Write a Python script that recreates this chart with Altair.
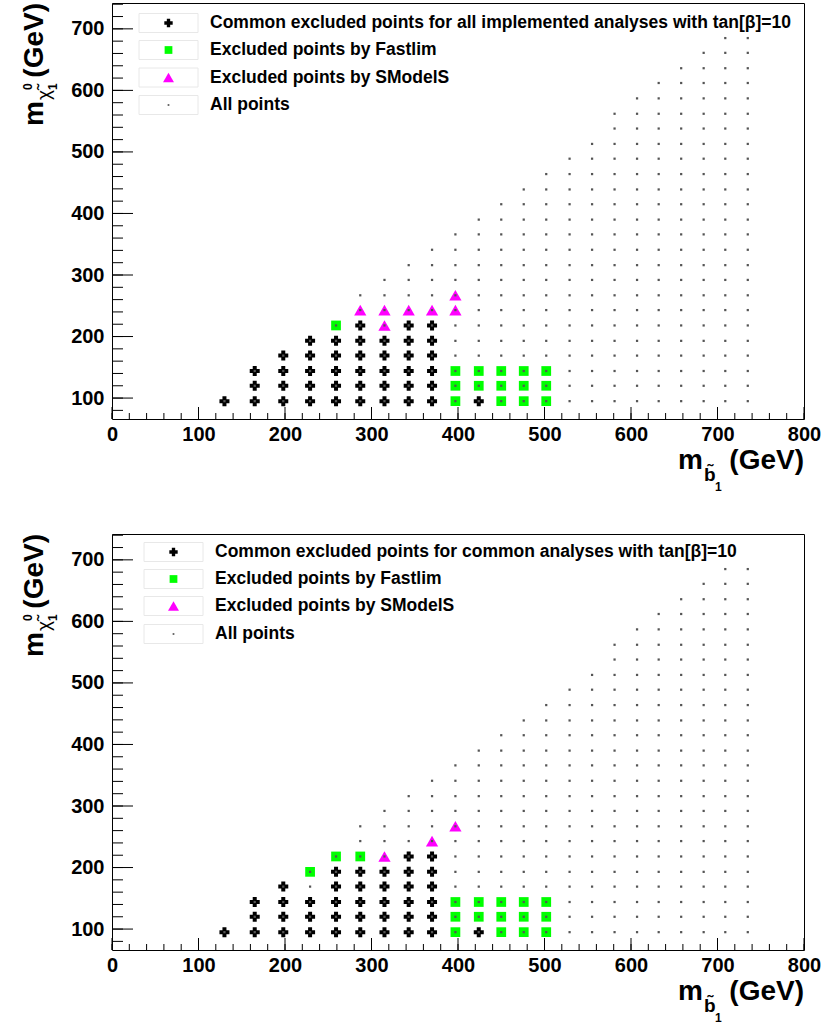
import altair as alt
import pandas as pd

# Scan grid: sbottom masses (columns) and neutralino masses (rows), in GeV
M_SBOTTOM = [130, 165, 198, 229, 259, 287, 315, 343, 370, 397, 424, 450,
             476, 502, 529, 555, 581, 607, 632, 658, 684, 709, 735]
M_NEUTRALINO = [95, 120, 144, 169, 193, 218, 243, 267, 292, 316, 341, 366,
                390, 415, 439, 464, 489, 513, 538, 562, 587, 612, 636, 661, 685]
# heaviest neutralino scanned for each sbottom mass
MAX_NEUTRALINO = [95, 144, 169, 193, 218, 267, 292, 316, 341, 366, 390, 415,
                  439, 464, 489, 513, 562, 587, 612, 636, 661, 685, 685]

# Upper panel: all implemented analyses
TOP_COMMON = {130: [95], 165: [95, 120, 144], 198: [95, 120, 144, 169],
              229: [95, 120, 144, 169, 193], 259: [95, 120, 144, 169, 193],
              287: [95, 120, 144, 169, 193, 218], 315: [95, 120, 144, 169, 193],
              343: [95, 120, 144, 169, 193, 218], 370: [95, 120, 144, 169, 193, 218],
              424: [95]}
TOP_FASTLIM = {259: [218], 397: [95, 120, 144], 424: [120, 144],
               450: [95, 120, 144], 476: [95, 120, 144], 502: [95, 120, 144]}
TOP_SMODELS = {287: [243], 315: [218, 243], 343: [243], 370: [243], 397: [243, 267]}

# Lower panel: common analyses only
BOT_COMMON = {130: [95], 165: [95, 120, 144], 198: [95, 120, 144, 169],
              229: [95, 120, 144], 259: [95, 120, 144, 169, 193],
              287: [95, 120, 144, 169, 193], 315: [95, 120, 144, 169, 193],
              343: [95, 120, 144, 169, 193, 218], 370: [95, 120, 144, 169, 193, 218],
              424: [95]}
BOT_FASTLIM = {229: [193], 259: [218], 287: [218], 397: [95, 120, 144],
               424: [120, 144], 450: [95, 120, 144], 476: [95, 120, 144],
               502: [95, 120, 144]}
BOT_SMODELS = {315: [218], 370: [243], 397: [267]}

LEGEND_LABELS_TOP = ["Common excluded points for all implemented analyses with tan[β]=10",
                     "Excluded points by Fastlim", "Excluded points by SModelS", "All points"]
LEGEND_LABELS_BOT = ["Common excluded points for common analyses with tan[β]=10",
                     "Excluded points by Fastlim", "Excluded points by SModelS", "All points"]

X_TICKS = [0, 100, 200, 300, 400, 500, 600, 700, 800]
Y_TICKS = [100, 200, 300, 400, 500, 600, 700]
X_MINOR = [v for v in range(0, 801, 20)]
Y_MINOR = [v for v in range(80, 741, 20)]

W, H = 692, 416
FONT = "Liberation Sans"
GREEN = "#00ff00"
MAGENTA = "#ff00ff"
DOT = "#555555"

xscale = alt.Scale(domain=[0, 800], nice=False, zero=False)
yscale = alt.Scale(domain=[66, 742], nice=False, zero=False)


def to_frame(d):
    rows = [(mx, my) for mx, ys in d.items() for my in ys]
    return pd.DataFrame(rows, columns=["msb", "mchi"])


all_points = pd.DataFrame(
    [(mx, my) for mx, top in zip(M_SBOTTOM, MAX_NEUTRALINO) for my in M_NEUTRALINO if my <= top],
    columns=["msb", "mchi"])


def xy(axis=False):
    if axis:
        return dict(
            x=alt.X("msb:Q", scale=xscale,
                    axis=alt.Axis(values=X_TICKS, ticks=False, domain=False, grid=False,
                                  title=None, labelFont=FONT, labelFontWeight="bold",
                                  labelFontSize=20, labelColor="black", labelPadding=5,
                                  labelFlush=False)),
            y=alt.Y("mchi:Q", scale=yscale,
                    axis=alt.Axis(values=Y_TICKS, ticks=False, domain=False, grid=False,
                                  title=None, labelFont=FONT, labelFontWeight="bold",
                                  labelFontSize=20, labelColor="black", labelPadding=8,
                                  labelFlush=False)))
    return dict(x=alt.X("msb:Q", scale=xscale), y=alt.Y("mchi:Q", scale=yscale))


def tick_layers():
    xt = pd.DataFrame({"v": X_TICKS})
    xm = pd.DataFrame({"v": X_MINOR})
    yt = pd.DataFrame({"v": Y_TICKS})
    ym = pd.DataFrame({"v": Y_MINOR})
    rule = dict(color="black", strokeWidth=1)
    return [
        alt.Chart(xt).mark_rule(**rule).encode(x=alt.X("v:Q", scale=xscale),
                                               y=alt.value(H), y2=alt.value(H - 12)),
        alt.Chart(xm).mark_rule(**rule).encode(x=alt.X("v:Q", scale=xscale),
                                               y=alt.value(H), y2=alt.value(H - 6)),
        alt.Chart(yt).mark_rule(**rule).encode(y=alt.Y("v:Q", scale=yscale),
                                               x=alt.value(0), x2=alt.value(21)),
        alt.Chart(ym).mark_rule(**rule).encode(y=alt.Y("v:Q", scale=yscale),
                                               x=alt.value(0), x2=alt.value(11)),
    ]


def text(t, x, y, size, angle=0, align="left", baseline="alphabetic", weight="bold"):
    return alt.Chart(pd.DataFrame({"t": [t]})).mark_text(
        font=FONT, fontSize=size, fontWeight=weight, angle=angle, align=align,
        baseline=baseline, color="black").encode(
        text="t:N", x=alt.value(x), y=alt.value(y))


def legend_layers(labels, box_x0, text_x, row_y):
    layers = []
    styles = [
        dict(shape="cross", color="black", size=70),
        dict(shape="square", color=GREEN, size=60),
        dict(shape="triangle-up", color=MAGENTA, size=120),
        dict(shape="square", color=DOT, size=3),
    ]
    one = pd.DataFrame({"k": [0]})
    for lab, yy, st in zip(labels, row_y, styles):
        layers.append(alt.Chart(one).mark_rect(fill="white", stroke="#e8e8e8", strokeWidth=1).encode(
            x=alt.value(box_x0), x2=alt.value(box_x0 + 59),
            y=alt.value(yy - 9.5), y2=alt.value(yy + 9.5)))
        layers.append(alt.Chart(one).mark_point(filled=True, opacity=1, **st).encode(
            x=alt.value(box_x0 + 29.5), y=alt.value(yy)))
        layers.append(text(lab, text_x, yy, 17.5, baseline="middle"))
    return layers


def title_layers():
    return [
        # x title: m_{b~_1} (GeV)
        text("(GeV)", W, H + 50, 28, align="right"),
        text("m", W - 101, H + 50, 28, align="right"),
        text("b\u0303", W - 100, H + 62, 19),
        text("1", W - 89, H + 72, 12),
        # y title: m_{chi~^0_1} (GeV)
        text("(GeV)", -69, 0, 28, angle=270, align="right"),
        text("m", -69, 123, 28, angle=270),
        text("\u03c7\u0303", -62, 97, 19, angle=270, weight="normal"),
        text("0", -80, 87, 12, angle=270),
        text("1", -55, 87, 12, angle=270),
    ]


def panel(common, fastlim, smodels, labels, box_x0, text_x, row_y):
    layers = tick_layers()
    layers.append(alt.Chart(to_frame(common)).mark_point(
        shape="cross", filled=True, color="black", size=100, opacity=1).encode(**xy(axis=True)))
    layers.append(alt.Chart(to_frame(fastlim)).mark_point(
        shape="square", filled=True, color=GREEN, size=95, opacity=1).encode(**xy()))
    layers.append(alt.Chart(to_frame(smodels)).mark_point(
        shape="triangle-up", filled=True, color=MAGENTA, size=150, opacity=1).encode(**xy()))
    layers.append(alt.Chart(all_points).mark_point(
        shape="square", filled=True, color=DOT, size=5, opacity=1).encode(**xy()))
    layers += legend_layers(labels, box_x0, text_x, row_y)
    layers += title_layers()
    return alt.layer(*layers).properties(width=W, height=H)


top = panel(TOP_COMMON, TOP_FASTLIM, TOP_SMODELS, LEGEND_LABELS_TOP,
            27, 98, [20, 47, 74.5, 102])
bottom = panel(BOT_COMMON, BOT_FASTLIM, BOT_SMODELS, LEGEND_LABELS_BOT,
               32, 103, [18, 45, 72, 100])

chart = alt.vconcat(top, bottom, spacing=39).properties(
    padding={"left": 20, "top": 2, "right": 5, "bottom": 0},
    background="white",
).configure_view(stroke="black", strokeWidth=1)

chart.save("out.html", embed_options={"renderer": "svg", "actions": False})
